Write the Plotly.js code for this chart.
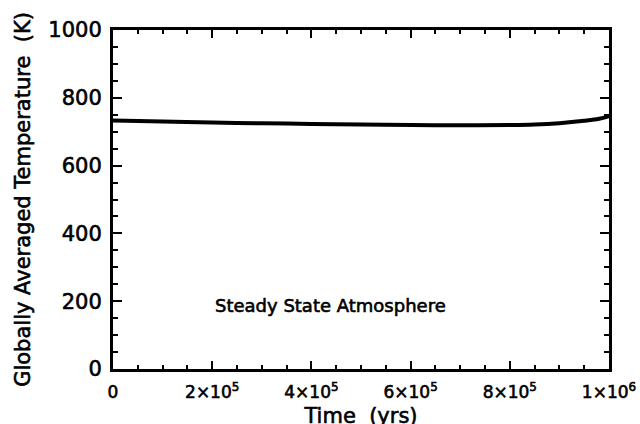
<!DOCTYPE html>
<html>
<head>
<meta charset="utf-8">
<script src="https://cdn.plot.ly/plotly-3.0.1.min.js"></script>
<style>
html,body{margin:0;padding:0;background:#fff;}
#chart{width:640px;height:424px;}
#chart svg text{stroke:#000;stroke-width:0.6px;}
#chart svg .xtitle{transform:translateY(4px);}
</style>
</head>
<body>
<div id="chart"></div>
<script>
const timeYrs = [0, 1e5, 2e5, 3e5, 4e5, 5e5, 6e5, 7e5, 8e5, 8.5e5, 9e5, 9.5e5, 9.8e5, 1e6];
const temperatureK = [733, 730, 727, 725, 723, 721, 719.5, 719, 719.5, 721, 725, 732, 738, 746];
const xTickVals = [0, 2e5, 4e5, 6e5, 8e5, 1e6];
const xTickText = ["0", "2×10<sup>5</sup>", "4×10<sup>5</sup>", "6×10<sup>5</sup>", "8×10<sup>5</sup>", "1×10<sup>6</sup>"];
const yTickVals = [0, 200, 400, 600, 800, 1000];
const labelText = "Steady State Atmosphere";

const font = {family: "DejaVu Sans, Verdana, sans-serif", color: "#000"};
const f = s => Object.assign({size: s}, font);

Plotly.newPlot("chart", [{
  x: timeYrs, y: temperatureK, type: "scatter", mode: "lines",
  line: {color: "#000", width: 4, shape: "spline"}, hoverinfo: "skip"
}], {
  width: 640, height: 424,
  margin: {l: 113, r: 31, t: 30, b: 55},
  paper_bgcolor: "#fff", plot_bgcolor: "#fff",
  showlegend: false,
  font: f(17),
  xaxis: {
    range: [0, 1e6], tickvals: xTickVals, ticktext: xTickText,
    ticks: "inside", ticklen: 8, tickwidth: 2, tickcolor: "#000",
    showline: true, linewidth: 3, linecolor: "#000", mirror: "allticks",
    showgrid: false, zeroline: false,
    minor: {dtick: 5e4, ticks: "inside", ticklen: 4, tickwidth: 2, tickcolor: "#000", showgrid: false},
    tickfont: f(17), ticklabelstandoff: 6,
    title: {text: "Time  (yrs)", font: f(21), standoff: 8}
  },
  yaxis: {
    range: [0, 1000], tickvals: yTickVals,
    ticks: "inside", ticklen: 9, tickwidth: 2, tickcolor: "#000",
    showline: true, linewidth: 3, linecolor: "#000", mirror: "allticks",
    showgrid: false, zeroline: false,
    minor: {dtick: 50, ticks: "inside", ticklen: 5, tickwidth: 2, tickcolor: "#000", showgrid: false},
    tickfont: f(21), ticklabelstandoff: 4,
    title: {text: "Globally Averaged Temperature  (K)", font: f(21), standoff: 12}
  },
  annotations: [{
    x: 4.375e5, y: 186, xref: "x", yref: "y", text: labelText, showarrow: false,
    font: f(18)
  }]
}, {staticPlot: true});
</script>
</body>
</html>
